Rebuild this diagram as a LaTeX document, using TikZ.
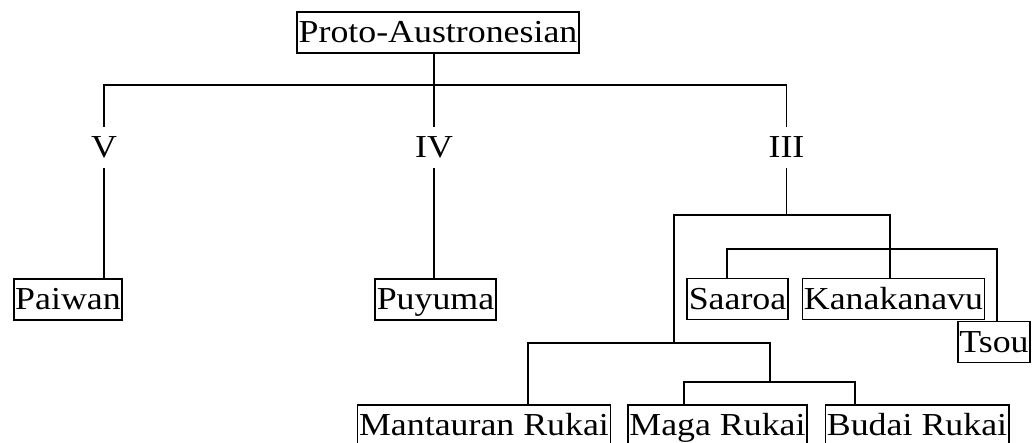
\documentclass[tikz,border=0pt]{standalone}
\usepackage{fontspec}
\setmainfont{Liberation Serif}[FakeStretch=1.12]
\begin{document}
\begin{tikzpicture}[x=1pt,y=-1pt,
  lang/.style={draw,line width=1.8pt,inner xsep=1.5pt,inner ysep=4.5pt,
    text height=26pt,text depth=6pt,font=\fontsize{32}{38}\selectfont},
  grp/.style={inner xsep=0pt,inner ysep=10pt,font=\fontsize{32}{38}\selectfont},
  branch/.style={line width=1.8pt}]
\useasboundingbox (0,0) rectangle (1032,442);

% language and subgroup nodes
\node[lang] (proto) at (438,32.5) {Proto-Austronesian};
\node[grp] (v)   at (104,147.5) {V};
\node[grp] (iv)  at (434,147.5) {IV};
\node[grp] (iii) at (786.5,147.5) {III};
\node[lang] (paiwan) at (68,299.5) {Paiwan};
\node[lang] (puyuma) at (435.5,299.5) {Puyuma};
\node[lang] (saaroa) at (737.5,299) {Saaroa};
\node[lang] (kanakanavu) at (893.5,299) {Kanakanavu};
\node[lang,anchor=east] (tsou) at (1031,342) {Tsou};
\node[lang] (mantauran) at (484,425.5) {Mantauran Rukai};
\node[lang] (maga) at (717.5,425.5) {Maga Rukai};
\node[lang] (budai) at (917,425.5) {Budai Rukai};

% branching points
\coordinate (bar) at (0,85);
\coordinate (k1) at (674,215);
\coordinate (k2) at (890,215);
\coordinate (t1) at (727,249);
\coordinate (t2) at (997,249);
\coordinate (r1) at (528,343);
\coordinate (r2) at (770,343);
\coordinate (m1) at (684,382);
\coordinate (m2) at (855,382);

% top level
\draw[branch] (iv.north |- proto.south) -- (iv.north);
\draw[branch] (v.north) -- (v.north |- bar) -- (iii.north |- bar) -- (iii.north);
\draw[branch] (v.south) -- (v.south |- paiwan.north);
\draw[branch] (iv.south) -- (iv.south |- puyuma.north);

% subgroup III
\draw[branch] (iii.south) -- (iii.south |- k1);
\draw[branch] (k1 |- r1) -- (k1) -- (k2) -- (k2 |- kanakanavu.north);
\draw[branch] (t1 |- saaroa.north) -- (t1) -- (t2) -- (t2 |- tsou.north);

% Rukai
\draw[branch] (r1 |- mantauran.north) -- (r1) -- (r2) -- (r2 |- m1);
\draw[branch] (m1 |- maga.north) -- (m1) -- (m2) -- (m2 |- budai.north);
\end{tikzpicture}
\end{document}
